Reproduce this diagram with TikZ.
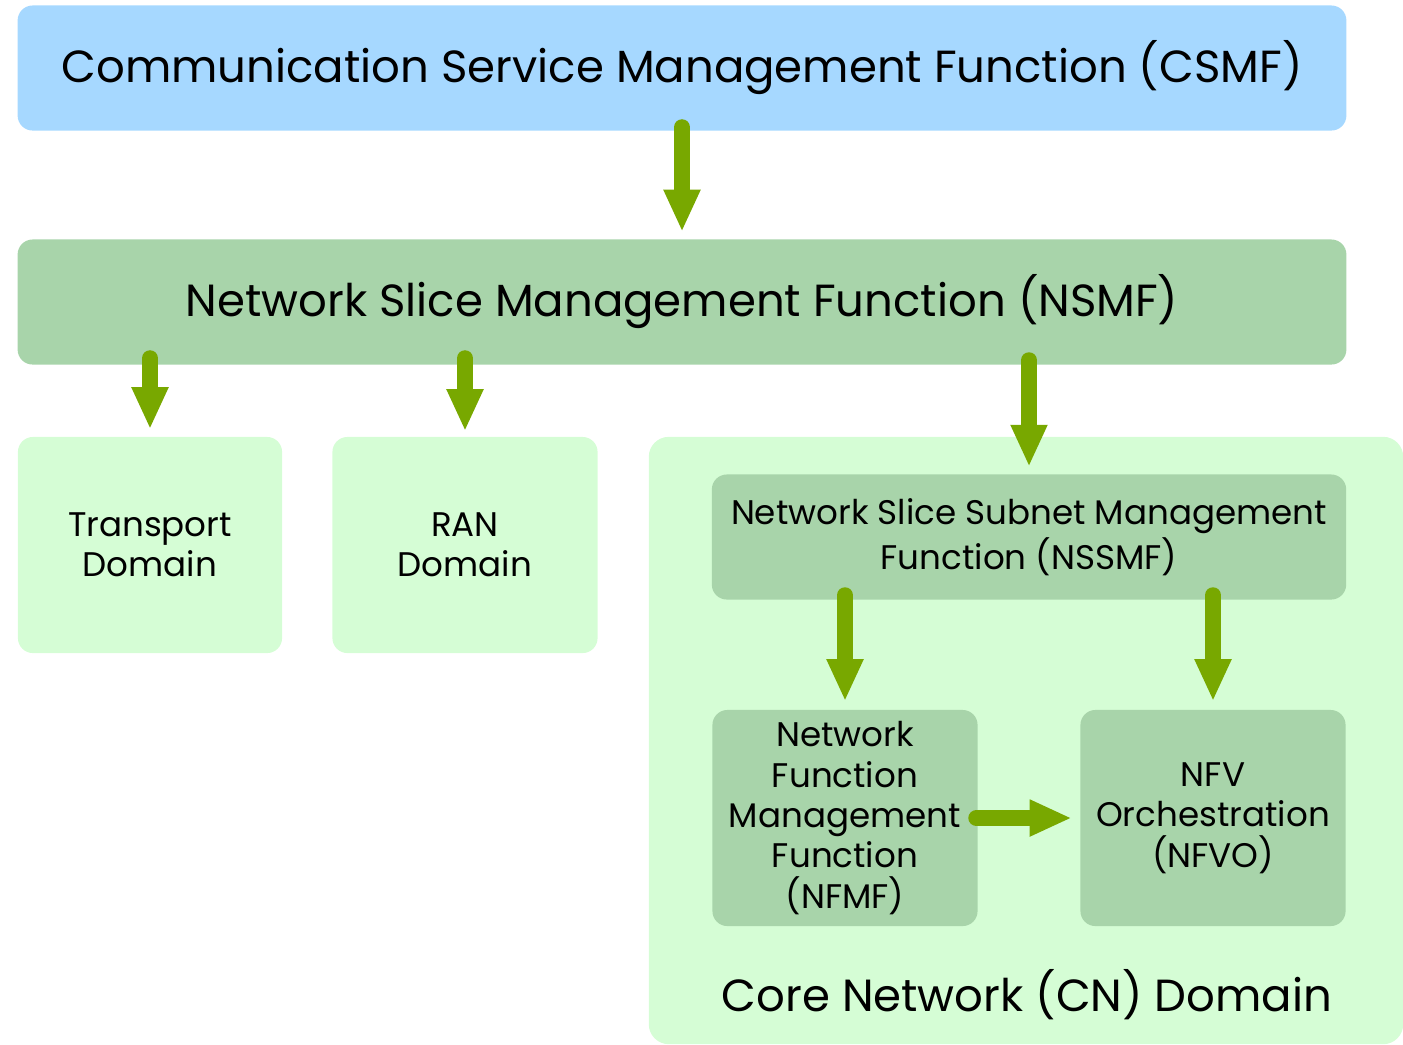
\documentclass[tikz,border=0pt]{standalone}
\usepackage{fontspec}
\setmainfont{Poppins}
\usetikzlibrary{arrows.meta}

\definecolor{csmfblue}{HTML}{A6D8FF}
\definecolor{midgreen}{HTML}{A8D4AA}
\definecolor{palegreen}{HTML}{D5FDD5}
\definecolor{arrowgreen}{HTML}{78A800}

\tikzset{
  box/.style={rounded corners=0.15cm, inner sep=0pt, align=center},
  bigtext/.style={font=\fontsize{12.8}{15}\selectfont},
  smalltext/.style={font=\fontsize{9.7}{11.5}\selectfont},
  arr/.style={arrowgreen, line width=0.16cm, line cap=round,
    -{Triangle[width=0.34cm,length=0.42cm]}}
}

\begin{document}
\begin{tikzpicture}[x=0.01cm, y=-0.01cm]
  \clip (0,0) rectangle (1403,1044);

  % top level
  \node[box, bigtext, fill=csmfblue, minimum width=13.28cm, minimum height=1.25cm]
    (csmf) at (682,68) {Communication Service Management Function (CSMF)};
  \node[box, bigtext, fill=midgreen, minimum width=13.28cm, minimum height=1.25cm]
    (nsmf) at (682,302) {Network Slice Management Function (NSMF)};

  % domains
  \node[box, smalltext, fill=palegreen, minimum width=2.64cm, minimum height=2.16cm]
    (tr) at (150,545) {Transport\\Domain};
  \node[box, smalltext, fill=palegreen, minimum width=2.65cm, minimum height=2.16cm]
    (ran) at (465,545) {RAN\\Domain};
  \node[box, fill=palegreen, rounded corners=0.2cm, minimum width=7.54cm, minimum height=6.07cm]
    (core) at (1026,740.5) {};
  \node[bigtext] (corelbl) at (1027,995) {Core Network (CN) Domain};

  % inside the core network domain
  \node[box, smalltext, fill=midgreen, minimum width=6.34cm, minimum height=1.25cm]
    (nssmf) at (1029,537) {Network Slice Subnet Management\\Function (NSSMF)};
  \node[box, smalltext, fill=midgreen, minimum width=2.65cm, minimum height=2.16cm]
    (nfmf) at (845,818) {Network\\Function\\Management\\Function\\(NFMF)};
  \node[box, smalltext, fill=midgreen, minimum width=2.65cm, minimum height=2.16cm]
    (nfvo) at (1213,818) {NFV\\Orchestration\\(NFVO)};

  % arrows
  \draw[arr] ([yshift=0.04cm]csmf.south) -- ([yshift=0.07cm]nsmf.north);
  \draw[arr] ([yshift=0.07cm]nsmf.south -| tr) -- ([yshift=0.07cm]tr.north);
  \draw[arr] ([yshift=0.07cm]nsmf.south -| ran) -- ([yshift=0.05cm]ran.north);
  \draw[arr] ([yshift=0.05cm]nsmf.south -| nssmf) -- ([yshift=0.07cm]nssmf.north);
  \draw[arr] ([yshift=0.05cm]nssmf.south -| nfmf) -- ([yshift=0.08cm]nfmf.north);
  \draw[arr] ([yshift=0.05cm]nssmf.south -| nfvo) -- ([yshift=0.08cm]nfvo.north);
  \draw[arr] ([xshift=-0.02cm]nfmf.east) -- ([xshift=-0.08cm]nfvo.west);
\end{tikzpicture}
\end{document}
